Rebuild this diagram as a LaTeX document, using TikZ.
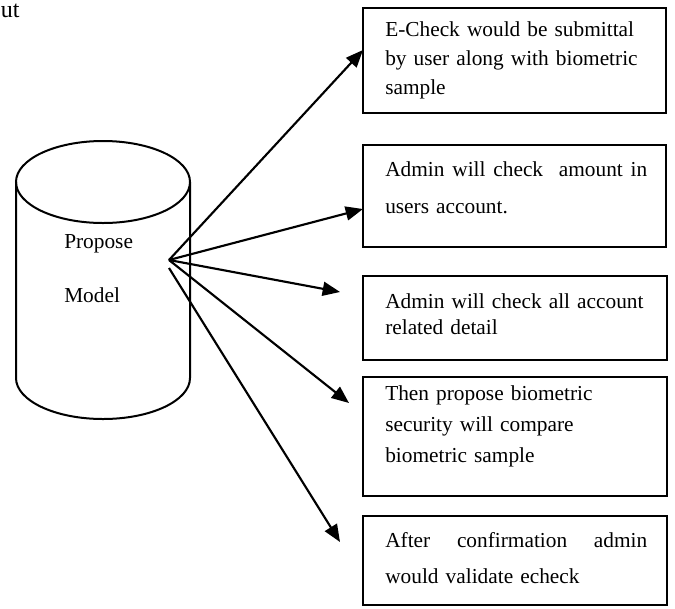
\documentclass[tikz,border=0pt]{standalone}
\usepackage{fontspec}
\setmainfont{Liberation Serif}
\usetikzlibrary{arrows.meta}
\begin{document}
\begin{tikzpicture}[x=0.75pt, y=-0.75pt,
  stepbox/.style={draw=black, line width=1.5pt, minimum width=227.6pt, inner sep=0pt},
  steptext/.style={anchor=base west, inner sep=0pt, text width=196.5pt, align=left},
  flow/.style={-{Triangle[length=13pt,width=10.5pt]}, line width=1.6pt, draw=black}]
\useasboundingbox (0,0) rectangle (675,608);
\node[anchor=base west, inner sep=0pt, font=\fontsize{18}{20}\selectfont] (head) at (0.5,17.3) {ut};
% database
\draw[line width=1.5pt] (103,182) ellipse (87 and 41);
\draw[line width=1.5pt] (16,182) -- (16,378) arc (180:0:87 and 41) -- (190,182);
\node[anchor=base west, inner sep=0pt, align=left, font=\fontsize{16}{40.5}\selectfont] (model) at (64,302) {Propose\\Model};
% boxes
\node[stepbox, minimum height=78.75pt] (box1) at (514.7,60.5) {};
\node[stepbox, minimum height=76.5pt] (box2) at (514.7,196) {};
\node[stepbox, minimum height=63pt] (box3) at (515.2,318) {};
\node[stepbox, minimum height=89.25pt] (box4) at (515,436.5) {};
\node[stepbox, minimum height=66.75pt] (box5) at (515,560.5) {};
\node[steptext, font=\fontsize{16}{22.1}\selectfont] (t1) at (385,36) {E-Check would be submittal\\by user along with biometric\\sample};
\node[steptext, font=\fontsize{16}{27.5}\selectfont] (t2) at (385,176.7) {Admin\hfill will\hfill check\hfill\hfill amount\hfill in\\users account.};
\node[steptext, font=\fontsize{16}{19.5}\selectfont] (t3) at (385,308) {Admin will check all account\\related detail};
\node[steptext, font=\fontsize{16}{23.6}\selectfont] (t4) at (385,400) {Then propose biometric\\security will compare\\biometric sample};
\node[steptext, font=\fontsize{16}{27.4}\selectfont] (t5) at (385,547) {After\hfill confirmation\hfill admin\\would validate echeck};
% arrows
\coordinate (src) at (169,260);
\coordinate (src2) at (169,268);
\coordinate (tip1) at (363,50);
\coordinate (tip2) at (363,209);
\coordinate (tip3) at (340,292);
\coordinate (tip4) at (349,403);
\coordinate (tip5) at (340,542);
\path (src) edge[flow] (tip1);
\path (src) edge[flow] (tip2);
\path (src) edge[flow] (tip3);
\path (src) edge[flow] (tip4);
\path (src2) edge[flow] (tip5);
\end{tikzpicture}
\end{document}
